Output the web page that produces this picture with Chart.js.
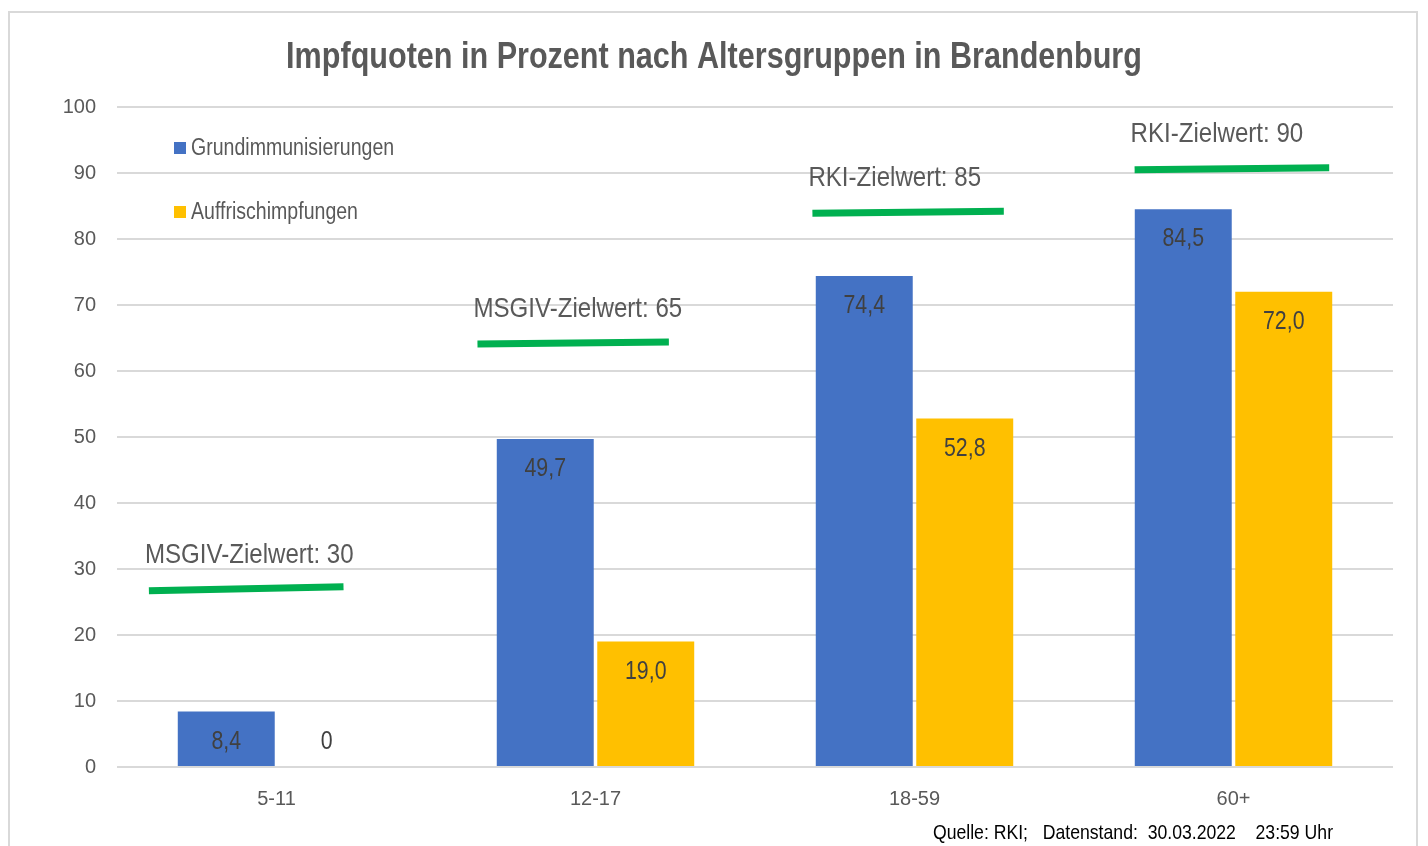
<!DOCTYPE html>
<html lang="de">
<head>
<meta charset="utf-8">
<title>Impfquoten Brandenburg</title>
<script src="https://cdn.jsdelivr.net/npm/chart.js@4.4.1/dist/chart.umd.min.js"></script>
<style>
  html, body { margin: 0; padding: 0; background: #fff; }
  #wrap { position: relative; width: 1428px; height: 846px; overflow: hidden; }
  #frame {
    position: absolute; left: 8px; top: 11px; width: 1410px; height: 900px;
    border: 2px solid #d9d9d9; box-sizing: border-box;
  }
  #chart { position: absolute; left: 0; top: 0; }
</style>
</head>
<body>
<div id="wrap">
  <div id="frame"></div>
  <canvas id="chart" width="1428" height="846"></canvas>
</div>
<script>
const FONT = '"Liberation Sans", Arial, sans-serif';

const categories = ['5-11', '12-17', '18-59', '60+'];
const grundValues = [8.4, 49.7, 74.4, 84.5];
const auffrValues = [0, 19.0, 52.8, 72.0];
const seriesNames = ['Grundimmunisierungen', 'Auffrischimpfungen'];
const yTicks = [0, 10, 20, 30, 40, 50, 60, 70, 80, 90, 100];

// target markers (hand placed in the original, slightly tilted), x in category units
const targetLabels = ['MSGIV-Zielwert: 30', 'MSGIV-Zielwert: 65', 'RKI-Zielwert: 85', 'RKI-Zielwert: 90'];
const targetStartX = [0.10, 1.13, 2.18, 3.19];
const targetEndX   = [0.71, 1.73, 2.78, 3.80];
const targetStartY = [26.7, 64.1, 83.9, 90.5];
const targetEndY   = [27.3, 64.4, 84.2, 90.8];

const BLUE = '#4472c4';
const GOLD = '#ffc000';
const GREEN = '#00b050';

function fmt(v) {
  return v === 0 ? '0' : v.toFixed(1).replace('.', ',');
}

// the original uses a narrow face; squeeze the regular one horizontally
function narrow(ctx, text, x, y, sx, align) {
  ctx.save();
  ctx.translate(x, y);
  ctx.scale(sx, 1);
  ctx.textAlign = align;
  ctx.fillText(text, 0, 0);
  ctx.restore();
}

const overlay = {
  id: 'overlay',
  afterDatasetsDraw(chart) {
    const ctx = chart.ctx;
    const area = chart.chartArea;
    const xs = chart.scales.x2;
    const ys = chart.scales.y;
    const base = ys.getPixelForValue(0);
    ctx.save();
    ctx.textBaseline = 'middle';

    // title
    ctx.font = `bold 37px ${FONT}`;
    ctx.fillStyle = '#595959';
    narrow(ctx, 'Impfquoten in Prozent nach Altersgruppen in Brandenburg', chart.width / 2, 58, 0.826, 'center');

    // target lines + captions
    targetLabels.forEach((lbl, i) => {
      const x0 = xs.getPixelForValue(targetStartX[i]);
      const x1 = xs.getPixelForValue(targetEndX[i]);
      const y0 = ys.getPixelForValue(targetStartY[i]);
      const y1 = ys.getPixelForValue(targetEndY[i]);
      ctx.strokeStyle = GREEN;
      ctx.lineWidth = 7;
      ctx.lineCap = 'butt';
      ctx.beginPath();
      ctx.moveTo(x0, y0);
      ctx.lineTo(x1, y1);
      ctx.stroke();
      ctx.font = `28px ${FONT}`;
      ctx.fillStyle = '#595959';
      narrow(ctx, lbl, x0 - 4, y0 - 35, 0.86, 'left');
    });

    // value labels inside the bar tops
    ctx.font = `26px ${FONT}`;
    ctx.fillStyle = '#404040';
    [0, 1].forEach(d => {
      chart.getDatasetMeta(d).data.forEach((bar, i) => {
        const v = chart.data.datasets[d].data[i];
        const y = Math.min(bar.y + 30, base - 25);
        narrow(ctx, fmt(v), bar.x, y, 0.82, 'center');
      });
    });

    // legend
    ctx.font = `23px ${FONT}`;
    const colors = [BLUE, GOLD];
    const lx = area.left + 57;
    [41, 105].forEach((dy, i) => {
      const y = area.top + dy;
      ctx.fillStyle = colors[i];
      ctx.fillRect(lx, y - 6, 12, 12);
      ctx.fillStyle = '#595959';
      narrow(ctx, seriesNames[i], lx + 17, y + 1, 0.85, 'left');
    });

    // source line
    ctx.font = `21px ${FONT}`;
    ctx.fillStyle = '#000';
    narrow(ctx, 'Quelle: RKI;   Datenstand:  30.03.2022    23:59 Uhr', 1333, 833, 0.84, 'right');
    ctx.restore();
  }
};

new Chart(document.getElementById('chart'), {
  type: 'bar',
  data: {
    labels: categories,
    datasets: [
      { label: seriesNames[0], data: grundValues, backgroundColor: BLUE },
      { label: seriesNames[1], data: auffrValues, backgroundColor: GOLD },
    ],
  },
  options: {
    responsive: false,
    animation: false,
    categoryPercentage: 0.63,
    barPercentage: 0.965,
    layout: { padding: { top: 107, right: 35, left: 0, bottom: 0 } },
    plugins: {
      legend: { display: false },
      tooltip: { enabled: false },
      title: { display: false },
    },
    scales: {
      x: {
        grid: { display: false, drawTicks: false },
        border: { display: false },
        ticks: { color: '#595959', font: { family: FONT, size: 20 }, padding: 20 },
        afterFit: s => { s.height = 79; },
      },
      x2: { type: 'linear', min: 0, max: 4, offset: false, display: false },
      y: {
        min: 0,
        max: 100,
        afterBuildTicks: s => { s.ticks = yTicks.map(v => ({ value: v })); },
        grid: { color: '#d9d9d9', lineWidth: 2, drawTicks: false },
        border: { display: false },
        ticks: { color: '#595959', font: { family: FONT, size: 20 }, padding: 21 },
        afterFit: s => { s.width = 117; },
      },
    },
  },
  plugins: [overlay],
});
</script>
</body>
</html>
